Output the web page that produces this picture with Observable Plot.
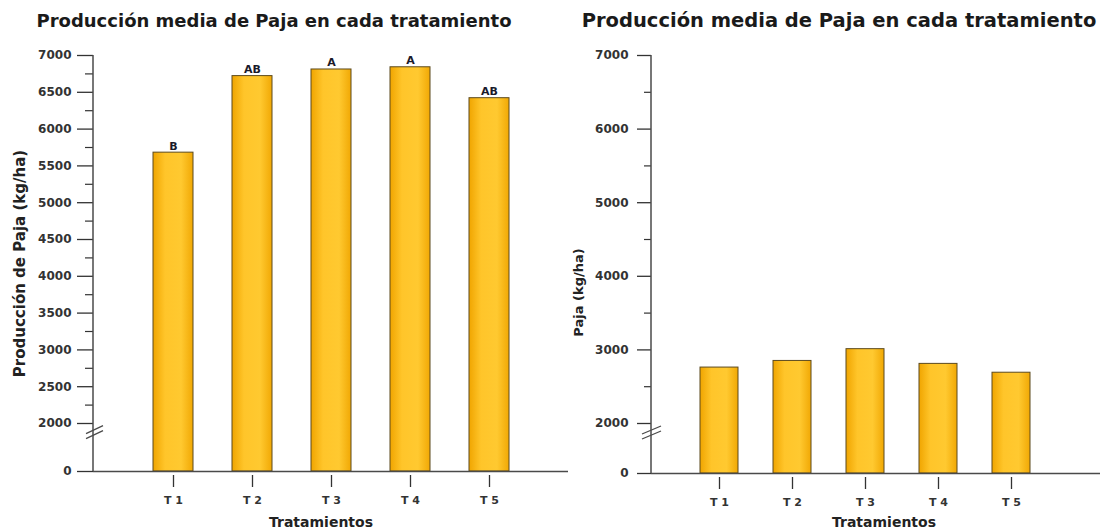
<!DOCTYPE html>
<html><head><meta charset="utf-8">
<script src="https://cdn.jsdelivr.net/npm/d3@7"></script>
<script src="https://cdn.jsdelivr.net/npm/@observablehq/plot@0.6"></script>
<style>
body{margin:0;background:#fff;}
#wrap{position:relative;width:1100px;height:528px;overflow:hidden;font-family:"DejaVu Sans",sans-serif;}
.title{position:absolute;font-weight:bold;text-align:center;white-space:nowrap;color:#1a1a1a;}
#left{position:absolute;left:0;top:40px;}
#right{position:absolute;left:555px;top:40px;}
</style></head><body>
<div id="wrap">
 <div class="title" id="t1" style="left:0;width:548px;top:10px;font-size:18px;"></div>
 <div class="title" id="t2" style="left:578px;width:522px;top:9px;font-size:19.5px;"></div>
 <div id="left"></div><div id="right"></div>
</div>
<script>
// ---- data ----
const treatments = ["T 1", "T 2", "T 3", "T 4", "T 5"];
const mediaPaja = [5680, 6720, 6810, 6840, 6420];
const letras = ["B", "AB", "A", "A", "AB"];
const paja = [2760, 2850, 3010, 2810, 2690];
const ticksL = [0, 2000, 2500, 3000, 3500, 4000, 4500, 5000, 5500, 6000, 6500, 7000];
const minorL = [2250, 2750, 3250, 3750, 4250, 4750, 5250, 5750, 6250, 6750];
const ticksR = [0, 2000, 3000, 4000, 5000, 6000, 7000];
const minorR = [2500, 3500, 4500, 5500, 6500];
const titulo = "Producción media de Paja en cada tratamiento";
const tituloYL = "Producción de Paja (kg/ha)";
const tituloYR = "Paja (kg/ha)";
const tituloX = "Tratamientos";

document.getElementById("t1").textContent = titulo;
document.getElementById("t2").textContent = titulo;

const dataL = treatments.map((t, i) => ({t, v: mediaPaja[i], letra: letras[i]}));
const dataR = treatments.map((t, i) => ({t, v: paja[i]}));

const AX = "#4a4a4a";

function decor(id, breakVal, left, right) {
  return (index, scales, values, dims) => {
    const g = d3.create("svg:g");
    const lg = g.append("defs").append("linearGradient")
      .attr("id", id).attr("x1", "0").attr("x2", "1").attr("y1", "0").attr("y2", "0");
    [[0, "#F0A500"], [0.3, "#FFC52A"], [0.7, "#FFC930"], [1, "#F1A804"]].forEach(([o, c]) =>
      lg.append("stop").attr("offset", o).attr("stop-color", c));
    const x0 = dims.marginLeft;
    g.append("line").attr("x1", x0).attr("x2", x0)
      .attr("y1", scales.y(0)).attr("y2", scales.y(7000))
      .attr("stroke", AX).attr("stroke-width", 1.5);
    const yb = scales.y(breakVal);
    for (const off of [-2.5, 2.5]) {
      g.append("line")
        .attr("x1", x0 - left).attr("y1", yb + off + 4)
        .attr("x2", x0 + right).attr("y2", yb + off - 4)
        .attr("stroke", AX).attr("stroke-width", 1.3);
    }
    return g.node();
  };
}

const baseStyle = {fontFamily: "DejaVu Sans", fontSize: "12px", fontWeight: "bold", color: "#333", background: "transparent"};

const left = Plot.plot({
  width: 575, height: 488,
  marginLeft: 93, marginRight: 7, marginTop: 15, marginBottom: 57,
  style: baseStyle,
  x: {domain: treatments, paddingInner: 0.5, paddingOuter: 0.756, align: 0.5, label: null},
  y: {type: "linear", domain: [0, 2000, 7000], range: [431, 383, 15], label: null},
  marks: [
    Plot.barY(dataL, {x: "t", y1: 0, y2: "v", fill: "url(#gradL)", stroke: "#5c4a1e", strokeWidth: 1}),
    Plot.ruleY([0], {stroke: AX, strokeWidth: 1.5}),
    Plot.axisY({ticks: ticksL, tickSize: 16, tickPadding: 6, tickFormat: d => String(d), label: null, strokeWidth: 1.3}),
    Plot.axisY({ticks: minorL, tickSize: 8, tickFormat: () => "", label: null, strokeWidth: 1.2}),
    Plot.axisX({tickSize: 12, tickPadding: 9, dy: 4, label: null, strokeWidth: 1.3, fontSize: 11}),
    Plot.text(dataL, {x: "t", y: "v", text: "letra", lineAnchor: "bottom", dy: -3, fontSize: 11, fill: "#1a1a2a"}),
    Plot.text([tituloYL], {text: d => d, frameAnchor: "left", textAnchor: "middle", rotate: -90, dx: -73, fontSize: 15, fill: "#222"}),
    Plot.text([tituloX], {text: d => d, frameAnchor: "bottom", textAnchor: "middle", lineAnchor: "bottom", dy: 55, dx: -10, fontSize: 14, fill: "#222"}),
    decor("gradL", 1620, 7, 10)
  ]
});
document.getElementById("left").appendChild(left);

const right = Plot.plot({
  width: 545, height: 488,
  marginLeft: 96, marginRight: 0, marginTop: 15, marginBottom: 55,
  style: baseStyle,
  x: {domain: treatments, paddingInner: 0.485, paddingOuter: 0.787, align: 0.414, label: null},
  y: {type: "linear", domain: [0, 2000, 7000], range: [433, 383, 15], label: null},
  marks: [
    Plot.barY(dataR, {x: "t", y1: 0, y2: "v", fill: "url(#gradR)", stroke: "#5c4a1e", strokeWidth: 1}),
    Plot.ruleY([0], {stroke: AX, strokeWidth: 1.5}),
    Plot.axisY({ticks: ticksR, tickSize: 14, tickPadding: 9, tickFormat: d => String(d), label: null, strokeWidth: 1.3}),
    Plot.axisY({ticks: minorR, tickSize: 7, tickFormat: () => "", label: null, strokeWidth: 1.2}),
    Plot.axisX({tickSize: 12, tickPadding: 9, dy: 4, label: null, strokeWidth: 1.3, fontSize: 11}),
    Plot.text([tituloYR], {text: d => d, frameAnchor: "left", textAnchor: "middle", rotate: -90, dx: -73, dy: 28, fontSize: 13, fill: "#222"}),
    Plot.text([tituloX], {text: d => d, frameAnchor: "bottom", textAnchor: "middle", lineAnchor: "bottom", dy: 53, dx: 8, fontSize: 14, fill: "#222"}),
    decor("gradR", 1620, 9, 10)
  ]
});
document.getElementById("right").appendChild(right);
</script>
</body></html>
